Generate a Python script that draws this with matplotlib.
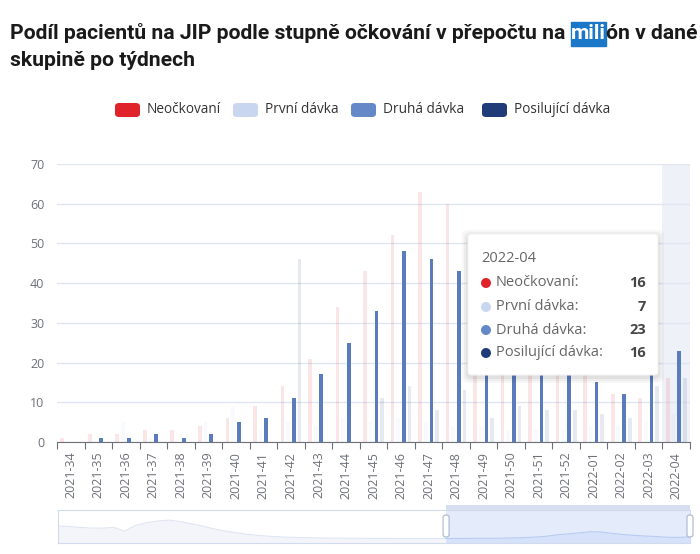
import matplotlib
matplotlib.use("Agg")
import matplotlib.pyplot as plt
import numpy as np
from matplotlib import font_manager
from matplotlib.patches import FancyBboxPatch, Rectangle, Ellipse

# data
weeks = ['2021-34', '2021-35', '2021-36', '2021-37', '2021-38', '2021-39',
         '2021-40', '2021-41', '2021-42', '2021-43', '2021-44', '2021-45',
         '2021-46', '2021-47', '2021-48', '2021-49', '2021-50', '2021-51',
         '2021-52', '2022-01', '2022-02', '2022-03', '2022-04']
neockovani = [1, 2, 2, 3, 3, 4, 6, 9, 14, 21, 34, 43, 52, 63, 60, 47, 37, 29, 23, 19, 12, 11, 16]
prvni_davka = [0, 0, 5, 1, 0, 5, 9, 3, 5, 4, 6, 5, 6, 5, 4, 4, 3, 3, 3, 4, 4, 5, 7]
druha_davka = [0, 1, 1, 2, 1, 2, 5, 6, 11, 17, 25, 33, 48, 46, 43, 36, 28, 23, 20, 15, 12, 19, 23]
posilujici = [0, 0, 0, 0, 0, 0, 0, 0, 46, 0, 0, 11, 14, 8, 13, 6, 9, 8, 8, 7, 6, 14, 16]

# earlier weeks of Neockovani, only visible as the data shadow of the zoom slider
shadow_earlier = [114, 110, 102, 96, 95, 103, 68, 120, 145, 160, 168, 155, 135, 115,
                  90, 70, 55, 40, 30, 22, 16, 12, 9, 7, 5, 4, 3, 3, 2, 2, 2, 1, 1, 1, 1]

series_names = ['Neočkovaní', 'První dávka', 'Druhá dávka', 'Posilující dávka']
series_colors = ['#e0222a', '#c8d7ef', '#6589c8', '#1f3b78']
hover_week = '2022-04'

W, H = 700, 554


def fx(x):
    return x / W


def fy(y):
    return 1 - y / H


names = {f.name for f in font_manager.fontManager.ttflist}
base_font = 'Open Sans' if 'Open Sans' in names else 'DejaVu Sans'
title_font = 'Roboto' if 'Roboto' in names else base_font
plt.rcParams['font.family'] = [base_font, 'DejaVu Sans']

fig = plt.figure(figsize=(7, 5.54), dpi=100)
fig.patch.set_facecolor('white')

# ---- main plot
ax = fig.add_axes([fx(57), fy(442), fx(690) - fx(57), fy(164) - fy(442)])
x = np.arange(len(weeks))
offsets = [-0.31, -0.105, 0.105, 0.31]
bw = 0.135
all_series = [neockovani, prvni_davka, druha_davka, posilujici]
for i, (vals, col) in enumerate(zip(all_series, series_colors)):
    if i == 2:
        ax.bar(x + offsets[i], vals, bw, color='#5a7cbd', zorder=3)
    else:
        ax.bar(x + offsets[i], vals, bw, color=col, alpha=0.11, zorder=3)

hi = weeks.index(hover_week)
ax.axvspan(hi - 0.5, hi + 0.5, color='#eef1f7', zorder=0, lw=0)

ax.set_xlim(-0.5, len(weeks) - 0.5)
ax.set_ylim(0, 70)
ax.set_yticks(range(0, 71, 10))
ax.grid(axis='y', color='#e0e6f1', lw=1)
ax.set_axisbelow(True)
for s in ['top', 'right', 'left']:
    ax.spines[s].set_visible(False)
ax.spines['bottom'].set_color('#6e7079')
ax.set_xticks(np.arange(-0.5, len(weeks), 1))
ax.set_xticklabels([])
ax.tick_params(axis='x', which='major', length=5, color='#6e7079')
ax.set_xticks(x, minor=True)
ax.set_xticklabels(weeks, minor=True, rotation=90, fontsize=9, color='#6e7079')
ax.tick_params(axis='x', which='minor', length=0, pad=7)
ax.tick_params(axis='y', length=0, labelsize=9, labelcolor='#6e7079', pad=9)

# ---- title with highlighted "mili"
renderer = fig.canvas.get_renderer()
parts = ['Podíl pacientů na JIP podle stupně očkování v přepočtu na ', 'mili', 'ón v dané']
tkw = dict(fontweight='bold', family=[title_font, 'DejaVu Sans'], va='baseline', ha='left')
probe = fig.text(0, 0, parts[0], fontsize=13, **tkw)
pw = probe.get_window_extent(renderer).width
probe.remove()
tsize = 13 * (569 - 10) / pw

xpos = 10
for k, p in enumerate(parts):
    if k == 1:
        t = fig.text(fx(xpos), fy(39), p, color='white', fontsize=tsize, **tkw)
        bb = t.get_window_extent(renderer)
        fig.patches.append(Rectangle((fx(bb.x0), fy(46)), (bb.x1 - bb.x0) / W, 24 / H,
                                     transform=fig.transFigure, color='#1b78c8', zorder=0))
    else:
        t = fig.text(fx(xpos), fy(39), p, color='#1a1a1a', fontsize=tsize, **tkw)
        bb = t.get_window_extent(renderer)
    xpos = bb.x1
fig.text(fx(10), fy(66), 'skupině po týdnech', fontsize=tsize, color='#1a1a1a', **tkw)

# ---- legend
leg_x = [115, 233, 351, 482]
for lx, name, col in zip(leg_x, series_names, series_colors):
    fig.patches.append(FancyBboxPatch((fx(lx), fy(117)), 25 / W, 14 / H,
                                      boxstyle='round,pad=0,rounding_size=0.006',
                                      transform=fig.transFigure, fc=col, ec='none'))
    fig.text(fx(lx + 32), fy(110), name, fontsize=9.8, color='#333333', va='center')

# ---- tooltip
tx0, ty0, tx1, ty1 = 468, 234, 658, 375
for grow, a in [(6, 0.03), (4, 0.04), (2, 0.05)]:
    fig.patches.append(FancyBboxPatch((fx(tx0 - grow), fy(ty1 + grow + 2)),
                                      (tx1 - tx0 + 2 * grow) / W, (ty1 - ty0 + 2 * grow) / H,
                                      boxstyle='round,pad=0,rounding_size=0.01',
                                      transform=fig.transFigure, fc='#000000', alpha=a,
                                      ec='none', zorder=10))
fig.patches.append(FancyBboxPatch((fx(tx0), fy(ty1)), (tx1 - tx0) / W, (ty1 - ty0) / H,
                                  boxstyle='round,pad=0,rounding_size=0.006',
                                  transform=fig.transFigure, fc='white', ec='#f2f2f2',
                                  lw=0.8, zorder=11))
fig.text(fx(481), fy(259), hover_week, fontsize=10.5, color='#666666', va='center', zorder=12)
row_y = [283, 307, 330, 353]
for ry, name, col, vals in zip(row_y, series_names, series_colors, all_series):
    fig.patches.append(Ellipse((fx(486), fy(ry)), 10 / W, 10 / H, transform=fig.transFigure,
                               fc=col, ec='none', zorder=12))
    fig.text(fx(496), fy(ry), name + ':', fontsize=10.5, color='#666666', va='center', zorder=12)
    fig.text(fx(646), fy(ry), str(vals[hi]), fontsize=10.5, color='#464646',
             fontweight='bold', va='center', ha='right', zorder=12)

# ---- data zoom slider
shadow = shadow_earlier + neockovani
n_all = len(shadow)
start = len(shadow_earlier)
sax = fig.add_axes([fx(58), fy(543), fx(690) - fx(58), fy(510) - fy(543)])
sax.set_xlim(0, n_all - 1)
sax.set_ylim(-40, 260)
sx = np.arange(n_all)
sax.fill_between(sx[:start + 1], -40, shadow[:start + 1], color='#f3f5fa', lw=0)
sax.plot(sx[:start + 1], shadow[:start + 1], color='#dfe5f1', lw=0.8)
sax.fill_between(sx[start:], -40, shadow[start:], color='#c9d7f6', lw=0)
sax.plot(sx[start:], shadow[start:], color='#b9cbf2', lw=0.8)
sax.axvspan(start, n_all - 1, color='#dbe6fc', alpha=0.75, lw=0)
sax.set_xticks([])
sax.set_yticks([])
for s in sax.spines.values():
    s.set_color('#d2dbee')
sax.patch.set_alpha(0)

win_x0 = 58 + start / (n_all - 1) * (690 - 58)
fig.patches.append(Rectangle((fx(win_x0), fy(510)), (690 - win_x0) / W, 5 / H,
                             transform=fig.transFigure, fc='#d6def0', ec='none'))
for hx in [win_x0, 690]:
    fig.patches.append(FancyBboxPatch((fx(hx - 3), fy(537)), 6 / W, 22 / H,
                                      boxstyle='round,pad=0,rounding_size=0.004',
                                      transform=fig.transFigure, fc='white',
                                      ec='#a7b7cc', lw=0.8, zorder=5))

fig.savefig('out.png', dpi=100)
